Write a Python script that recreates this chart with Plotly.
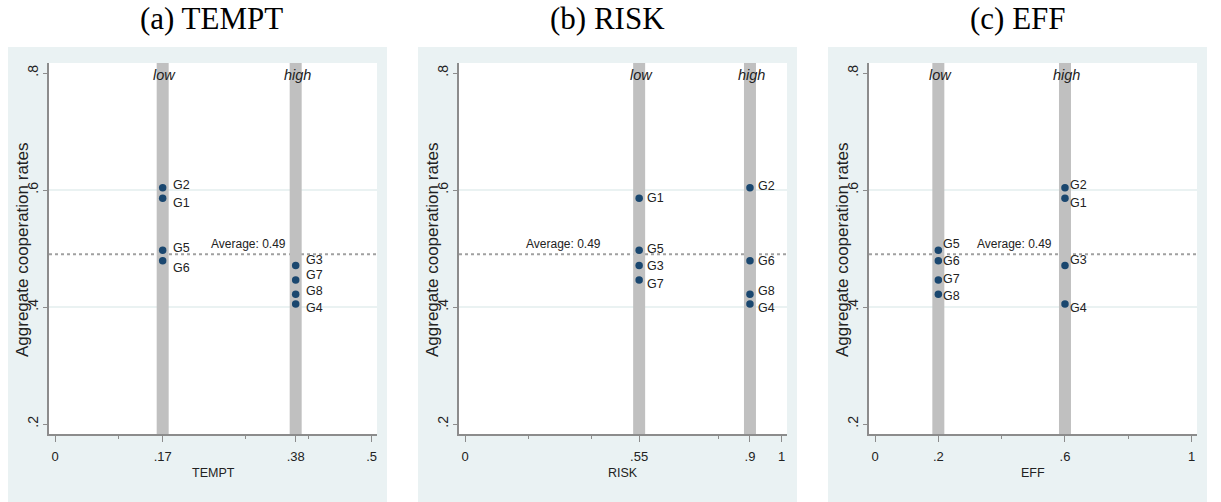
import plotly.graph_objects as go

# ---------------- data ----------------
groups = ["G1", "G2", "G3", "G4", "G5", "G6", "G7", "G8"]
coop_rate = [0.586, 0.604, 0.471, 0.405, 0.497, 0.479, 0.446, 0.422]
average_rate = 0.49

tempt_level = ["low", "low", "high", "high", "low", "low", "high", "high"]
risk_level = ["low", "high", "low", "high", "low", "high", "low", "high"]
eff_level = ["high", "high", "high", "high", "low", "low", "low", "low"]

tempt_values = {"low": 0.17, "high": 0.38}
risk_values = {"low": 0.55, "high": 0.9}
eff_values = {"low": 0.2, "high": 0.6}

panel_titles = ["(a) TEMPT", "(b) RISK", "(c) EFF"]
x_titles = ["TEMPT", "RISK", "EFF"]
x_tickvals = [[0, 0.17, 0.38, 0.5], [0, 0.55, 0.9, 1], [0, 0.2, 0.6, 1]]
x_ticktext = [["0", ".17", ".38", ".5"], ["0", ".55", ".9", "1"], ["0", ".2", ".6", "1"]]
x_minor = [[0.1, 0.3, 0.4], [0.2, 0.4, 0.8], [0.4, 0.8]]
y_tickvals = [0.2, 0.4, 0.6, 0.8]
y_ticktext = [".2", ".4", ".6", ".8"]
y_grid = [0.4, 0.6]

# ---------------- style ----------------
W, H = 1221, 502
OUTER_BG = "#eaf2f3"
BAND = "#c0c0c0"
MARKER = "#1a476f"
AXIS = "#8c8c8c"
TXT = "#222222"
SANS = "Liberation Sans, Arial, sans-serif"
SERIF = "Liberation Serif, Times New Roman, serif"

outer_px = [(8, 387), (418, 797), (828, 1207)]
plot_px = [(49, 377), (459, 787), (869, 1197)]
plot_top, plot_bot = 63, 434
title_cx = [211, 607, 1017.5]
x_ranges = [[-0.0095, 0.5084], [-0.019, 1.017], [-0.019, 1.017]]
y_range = [0.1829, 0.8171]
avg_label_x = [0.305, 0.31, 0.44]
label_dx = [9, 7, 4]
label_dy = [
    {"G1": 5, "G2": -3, "G3": -5, "G4": 4, "G5": -2, "G6": 7, "G7": -5, "G8": -3},
    {"G1": 0, "G2": -2, "G3": 1, "G4": 4, "G5": -1, "G6": 0, "G7": 4, "G8": -3},
    {"G1": 5, "G2": -3, "G3": -5, "G4": 4, "G5": -6, "G6": 0, "G7": -1, "G8": 2},
]


def px_x(p):
    return p / W


def px_y(p):
    return 1 - p / H


levels = [tempt_level, risk_level, eff_level]
values = [tempt_values, risk_values, eff_values]

fig = go.Figure()
shapes = []
annotations = []

for i in range(3):
    ax = "" if i == 0 else str(i + 1)
    xref = "x" + ax
    yref = "y" + ax
    xs = [values[i][lv] for lv in levels[i]]

    # outer panel background and white plot area
    shapes.append(dict(type="rect", xref="paper", yref="paper",
                       x0=px_x(outer_px[i][0]), x1=px_x(outer_px[i][1]),
                       y0=0, y1=px_y(47), fillcolor=OUTER_BG, line_width=0, layer="below"))
    shapes.append(dict(type="rect", xref="paper", yref="paper",
                       x0=px_x(plot_px[i][0]), x1=px_x(plot_px[i][1]),
                       y0=px_y(plot_bot), y1=px_y(plot_top), fillcolor="white",
                       line_width=0, layer="below"))
    # grid lines
    for g in y_grid:
        shapes.append(dict(type="line", xref=xref + " domain", yref=yref,
                           x0=0, x1=1, y0=g, y1=g,
                           line=dict(color="#e3eeee", width=1.5), layer="below"))
    # average line
    shapes.append(dict(type="line", xref=xref + " domain", yref=yref,
                       x0=0, x1=1, y0=average_rate, y1=average_rate,
                       line=dict(color="#a0a0a0", width=2, dash="dot"), layer="below"))
    # treatment bands
    for lv, v in values[i].items():
        shapes.append(dict(type="line", xref=xref, yref=yref + " domain",
                           x0=v, x1=v, y0=0, y1=1,
                           line=dict(color=BAND, width=12), layer="below"))
        annotations.append(dict(x=v, y=0.797, xref=xref, yref=yref, text=lv,
                                showarrow=False, xanchor="center", yanchor="middle",
                                xshift=2,
                                font=dict(family=SANS, size=14.5, color=TXT, style="italic")))

    fig.add_trace(go.Scatter(
        x=xs, y=coop_rate, mode="markers", xaxis=xref, yaxis=yref,
        marker=dict(color=MARKER, size=7.5), showlegend=False, hoverinfo="skip"))

    for g, x, y in zip(groups, xs, coop_rate):
        annotations.append(dict(x=x, y=y, xref=xref, yref=yref, text=g,
                                showarrow=False, xanchor="left", yanchor="middle",
                                xshift=label_dx[i] - 1, yshift=-label_dy[i][g],
                                font=dict(family=SANS, size=12.5, color=TXT)))

    annotations.append(dict(x=avg_label_x[i], y=average_rate, xref=xref, yref=yref,
                            text="Average: %.2f" % average_rate, showarrow=False,
                            xanchor="center", yanchor="bottom", yshift=1,
                            font=dict(family=SANS, size=12, color=TXT)))

    # panel title
    annotations.append(dict(x=px_x(title_cx[i]), y=px_y(19), xref="paper", yref="paper",
                            text=panel_titles[i], showarrow=False, xanchor="center",
                            yanchor="middle", font=dict(family=SERIF, size=31, color="black")))
    # x title
    cx = (plot_px[i][0] + plot_px[i][1]) / 2
    annotations.append(dict(x=px_x(cx), y=px_y(473), xref="paper", yref="paper",
                            text=x_titles[i], showarrow=False, xanchor="center",
                            yanchor="middle", font=dict(family=SANS, size=12.5, color=TXT)))
    # y title
    annotations.append(dict(x=px_x(plot_px[i][0] - 27), y=px_y(250), xref="paper", yref="paper",
                            text="Aggregate cooperation rates", showarrow=False,
                            textangle=-90, xanchor="center", yanchor="middle",
                            font=dict(family=SANS, size=17, color=TXT)))

    xa = dict(domain=[px_x(plot_px[i][0]), px_x(plot_px[i][1])], range=x_ranges[i],
              tickmode="array", tickvals=x_tickvals[i], ticktext=x_ticktext[i],
              ticks="outside", ticklen=6, tickwidth=1.2, tickcolor=AXIS,
              showline=True, linecolor=AXIS, linewidth=1.5, showgrid=False,
              zeroline=False, anchor=yref, ticklabelstandoff=4,
              tickfont=dict(family=SANS, size=13, color=TXT),
              minor=dict(tickmode="array", tickvals=x_minor[i], ticks="outside",
                         ticklen=3.5, tickwidth=1.2, tickcolor=AXIS, showgrid=False),
              fixedrange=True)
    ya = dict(domain=[px_y(plot_bot), px_y(plot_top)], range=y_range,
              tickmode="array", tickvals=y_tickvals, ticktext=y_ticktext,
              ticks="outside", ticklen=4, tickwidth=1.2, tickcolor=AXIS, tickangle=-90,
              showline=True, linecolor=AXIS, linewidth=1.5, showgrid=False,
              zeroline=False, anchor=xref, ticklabelstandoff=0,
              tickfont=dict(family=SANS, size=14, color=TXT), fixedrange=True)
    fig.update_layout(**{"xaxis" + ax: xa, "yaxis" + ax: ya})

fig.update_layout(width=W, height=H, margin=dict(l=0, r=0, t=0, b=0),
                  paper_bgcolor="white", plot_bgcolor="rgba(0,0,0,0)",
                  shapes=shapes, annotations=annotations, showlegend=False)

fig.write_html("out.html", config={"displayModeBar": False},
               post_script="document.body.style.margin='0px';"
                           "document.body.style.overflow='hidden';")
